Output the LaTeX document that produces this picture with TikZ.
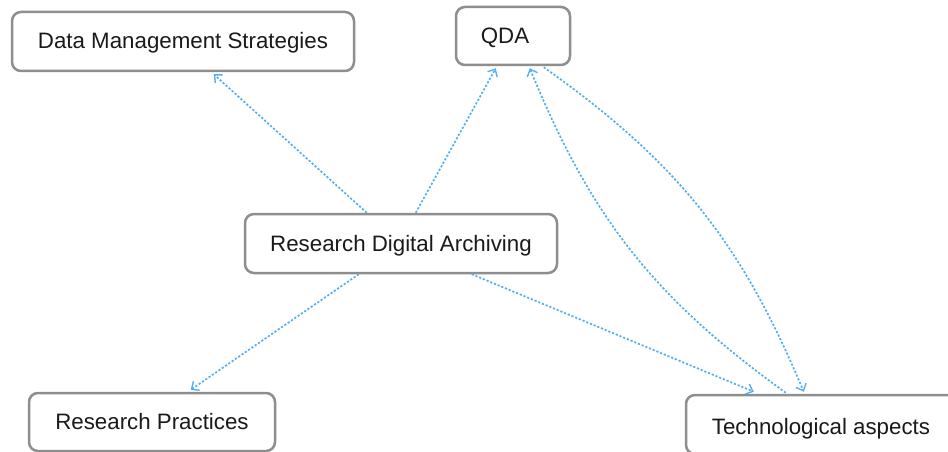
\documentclass[tikz,border=0pt]{standalone}
\usepackage{fontspec}
\setmainfont{Liberation Sans}
\usetikzlibrary{arrows.meta,calc}
\definecolor{boxgray}{HTML}{8E8E8E}
\definecolor{linkblue}{HTML}{55AEF5}
\definecolor{txt}{HTML}{1A1A1A}
\begin{document}
\begin{tikzpicture}[x=1pt,y=-1pt,
  box/.style={draw=boxgray,line width=2.5pt,rounded corners=9pt,fill=white,
    inner sep=0pt,text=txt,font=\fontsize{22.3}{26}\selectfont,anchor=center,
    text height=15pt,text depth=0pt},
  link/.style={draw=linkblue,line width=1.7pt,dash pattern=on 2.2pt off 1.8pt,
    -{Straight Barb[length=6pt,width=11pt,line width=1.4pt]}}]
\path[use as bounding box] (0,0) rectangle (948,452);
\node[box,minimum width=342pt,minimum height=59pt] (dms) at (183,41.5) {Data Management Strategies};
\node[box,minimum width=114pt,minimum height=58pt] (qda) at (513,36) {QDA\hspace*{16pt}};
\node[box,minimum width=312pt,minimum height=59pt] (rda) at (401,243.5) {Research Digital Archiving};
\node[box,minimum width=246pt,minimum height=58pt] (rp) at (152,422) {Research Practices};
\node[box,minimum width=270pt,minimum height=59pt] (ta) at (821,424.5) {\raisebox{-2pt}[15pt][0pt]{Technological aspects}};
\draw[link] ($(rda.north west)+(123,0)$) -- ($(dms.south west)+(203,2)$);
\draw[link] ($(rda.north west)+(172,0)$) -- ($(qda.south west)+(41,2)$);
\draw[link] ($(rda.south west)+(115,0)$) -- ($(rp.north west)+(163,-2)$);
\draw[link] ($(rda.south west)+(228,0)$) -- ($(ta.north west)+(69,-2)$);
\draw[link] ($(ta.north west)+(101,-1)$) to[bend left=16] ($(qda.south west)+(75,2)$);
\draw[link] ($(qda.south west)+(89,1)$) to[bend left=16] ($(ta.north west)+(119,-2)$);
\end{tikzpicture}
\end{document}
